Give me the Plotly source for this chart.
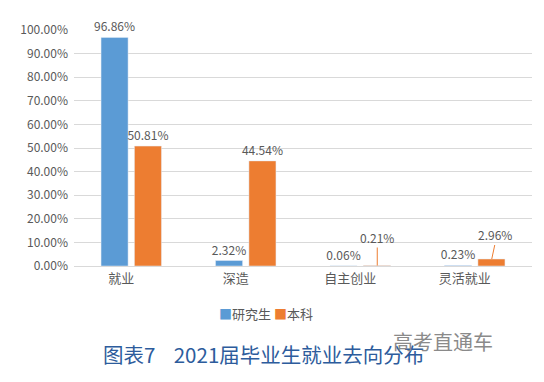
import plotly.graph_objects as go

categories = ["就业", "深造", "自主创业", "灵活就业"]
grad = [96.86, 2.32, 0.06, 0.23]
under = [50.81, 44.54, 0.21, 2.96]
series_names = ["研究生", "本科"]
leader_cats = ["自主创业", "灵活就业"]  # 本科 labels drawn with leader lines

BLUE = "#5b9bd5"
ORANGE = "#ed7d31"
GRAY = "#595959"
FONT = "Noto Sans CJK SC"

def lab(v):
    return f"{v:.2f}%"

under_text = [("" if c in leader_cats else lab(v)) for c, v in zip(categories, under)]

fig = go.Figure()
fig.add_trace(go.Bar(x=categories, y=grad, name=series_names[0], marker_color=BLUE,
                     text=[lab(v) for v in grad], textposition="outside",
                     constraintext="none",
                     textfont=dict(color=GRAY, size=12, family=FONT), cliponaxis=False))
fig.add_trace(go.Bar(x=categories, y=under, name=series_names[1], marker_color=ORANGE,
                     text=under_text, textposition="outside", constraintext="none",
                     textfont=dict(color=GRAY, size=12, family=FONT), cliponaxis=False))

for c, v, ax, ay in zip(categories, under, [0, 0, 0, 3], [0, 0, -18, -14]):
    if c in leader_cats:
        fig.add_annotation(x=c, y=v, xref="x", yref="y", xshift=17, text=lab(v),
                           showarrow=True, ax=ax, ay=ay, arrowhead=0, arrowwidth=1,
                           arrowcolor=ORANGE, font=dict(color=GRAY, size=12, family=FONT),
                           yanchor="bottom")

# legend drawn as text
legend_txt = (f"<span style='color:{BLUE}'>■</span>{series_names[0]} "
              f"<span style='color:{ORANGE}'>■</span>{series_names[1]}")
fig.add_annotation(text=legend_txt, xref="paper", yref="paper", x=0.42, y=-0.201,
                   showarrow=False, xanchor="center", yanchor="middle",
                   font=dict(color=GRAY, size=13, family=FONT))

fig.add_annotation(text="图表7    2021届毕业生就业去向分布", xref="paper", yref="paper",
                   x=0.413, y=-0.372, showarrow=False, xanchor="center", yanchor="middle",
                   font=dict(color="#2d5c9c", size=20.5, family=FONT))
fig.add_annotation(text="高考直通车", xref="paper", yref="paper",
                   x=0.92, y=-0.318, showarrow=False, xanchor="right", yanchor="middle",
                   font=dict(color="#8a8a8a", size=20, family=FONT))

fig.update_layout(
    width=536, height=374,
    margin=dict(l=64, r=12, t=19, b=116),
    paper_bgcolor="white", plot_bgcolor="white",
    barmode="group", bargap=0.417, bargroupgap=0.19,
    font=dict(family=FONT, color=GRAY, size=12),
    showlegend=False,
    xaxis=dict(showline=True, linecolor="#d9d9d9", tickfont=dict(size=13, color=GRAY),
               ticks="", ticklabelshift=-10),
    yaxis=dict(range=[0, 100], dtick=10, ticksuffix=".00%", showgrid=True,
               gridcolor="#d9d9d9", zeroline=False, tickfont=dict(size=12, color=GRAY),
               showline=False, ticklabelstandoff=5),
)

fig.write_html("out.html")
